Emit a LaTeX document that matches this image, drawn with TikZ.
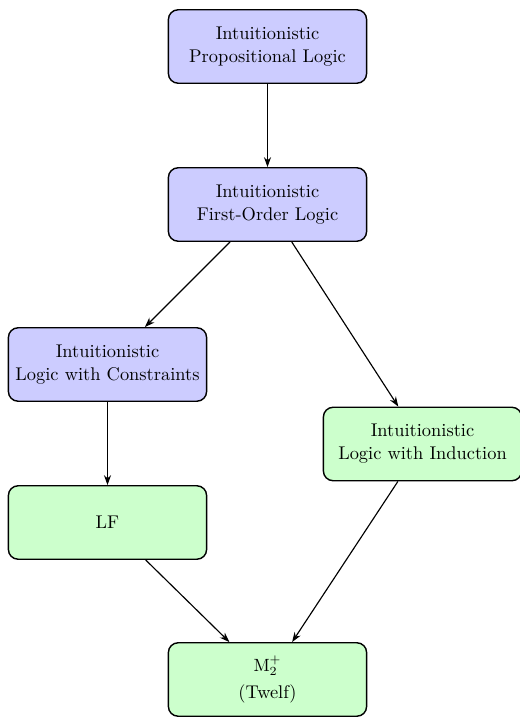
\documentclass[tikz,border=0pt]{standalone}
\usetikzlibrary{arrows.meta}
\begin{document}
\begin{tikzpicture}[x=0.565pt,y=-0.565pt,
  box/.style={draw, line width=0.8pt, rounded corners=5.5pt, minimum width=112pt, minimum height=41.5pt, align=center, inner sep=2pt, font={\fontsize{10.4pt}{13pt}\selectfont}},
  bluebox/.style={box, fill=blue!20},
  greenbox/.style={box, fill=green!20},
  arr/.style={-{Stealth[length=5.6pt,width=4pt]}, line width=0.65pt}]
\useasboundingbox (0,0) rectangle (520,717);
\node[bluebox] (ipl) at (267.5,46.5) {Intuitionistic\\Propositional Logic};
\node[bluebox] (ifol) at (267.5,204.5) {Intuitionistic\\First-Order Logic};
\node[bluebox] (ilc) at (107.5,364.5) {Intuitionistic\\Logic with Constraints};
\node[greenbox] (ili) at (422.5,444) {Intuitionistic\\Logic with Induction};
\node[greenbox] (lf) at (107.5,522.5) {LF};
\node[greenbox] (m2) at (267.5,679.5) {$\mathrm{M}_2^+$\\[2.5pt](Twelf)};
\draw[arr] (ipl) -- (ifol);
\draw[arr] (ifol) -- (ilc);
\draw[arr] (ifol) -- (ili);
\draw[arr] (ilc) -- (lf);
\draw[arr] (ili) -- (m2);
\draw[arr] (lf) -- (m2);
\end{tikzpicture}
\end{document}
